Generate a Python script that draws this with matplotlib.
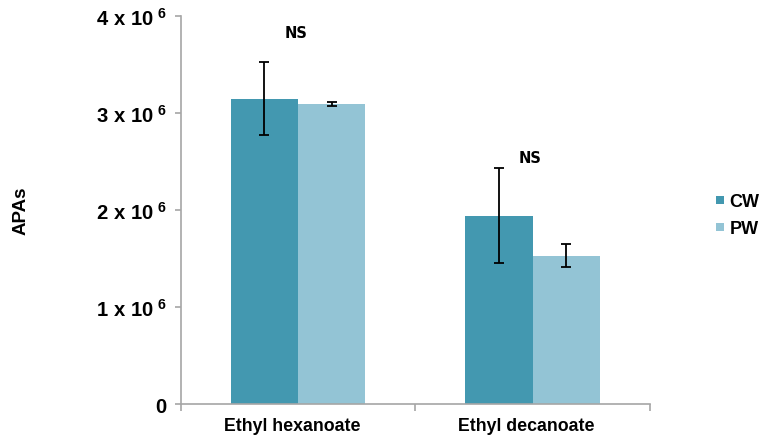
import matplotlib
matplotlib.use("Agg")
import matplotlib.pyplot as plt
import matplotlib.transforms as mtransforms
import numpy as np

plt.rcParams['font.family'] = ['Liberation Sans', 'DejaVu Sans']
plt.rcParams['mathtext.fontset'] = 'custom'
plt.rcParams['mathtext.rm'] = 'Liberation Sans:bold'
plt.rcParams['mathtext.bf'] = 'Liberation Sans:bold'
plt.rcParams['mathtext.it'] = 'Liberation Sans:bold'

categories = ["Ethyl hexanoate", "Ethyl decanoate"]
series = ["CW", "PW"]
cw_values = [3.15e6, 1.94e6]
pw_values = [3.09e6, 1.53e6]
cw_errors = [0.38e6, 0.49e6]
pw_errors = [0.02e6, 0.12e6]
ytick_values = [0, 1e6, 2e6, 3e6, 4e6]
ytick_labels = ["0", r"$1\ x\ 10^{\ 6}$", r"$2\ x\ 10^{\ 6}$",
                r"$3\ x\ 10^{\ 6}$", r"$4\ x\ 10^{\ 6}$"]
significance = ["NS", "NS"]
significance_y = [3.83e6, 2.54e6]

colors = ["#4398B0", "#93C4D5"]
axis_grey = "#A6A6A6"

fig = plt.figure(figsize=(7.6, 4.39), dpi=100)
ax = fig.add_axes([0.238, 0.0774, 0.617, 0.8836])

x = np.arange(len(categories))
width = 0.287
err_style = dict(ecolor="black", elinewidth=1.3, capthick=1.3)
b1 = ax.bar(x - width / 2, cw_values, width, color=colors[0], label=series[0],
            yerr=cw_errors, capsize=3.5, error_kw=err_style)
b2 = ax.bar(x + width / 2, pw_values, width, color=colors[1], label=series[1],
            yerr=pw_errors, capsize=3.5, error_kw=err_style)

ax.set_xlim(-0.5, 1.5)
ax.set_ylim(0, 4e6)
ax.set_yticks(ytick_values)
ax.set_yticklabels(ytick_labels, fontsize=14.6, fontweight="bold")
ax.set_xticks(x)
ax.set_xticklabels(categories, fontsize=12.8, fontweight="bold")
ax.tick_params(axis="x", length=0, pad=9)
ax.tick_params(axis="y", length=4, color=axis_grey, width=1.2, pad=6)

# nudge category labels slightly left
shift = mtransforms.ScaledTranslation(-6 / 100, 0, fig.dpi_scale_trans)
for lbl in ax.get_xticklabels():
    lbl.set_transform(lbl.get_transform() + shift)

# category separator ticks on the x axis
ax.set_xticks([-0.5, 0.5, 1.5], minor=True)
ax.tick_params(axis="x", which="minor", length=5, color=axis_grey, width=1.2)

for side in ["top", "right"]:
    ax.spines[side].set_visible(False)
for side in ["left", "bottom"]:
    ax.spines[side].set_color(axis_grey)
    ax.spines[side].set_linewidth(1.2)

# significance labels above each pair
for xi, yi, lab in zip(x, significance_y, significance):
    ax.text(xi - 0.01, yi, lab, ha="center", va="center", fontsize=10.5,
            fontweight="bold", family="DejaVu Sans")

ax.set_ylabel("APAs", fontsize=13.5, fontweight="bold")
ax.yaxis.set_label_coords(-0.322, 0.5)

fig.legend(handles=[b1, b2], labels=series, loc="center left",
           bbox_to_anchor=(0.942, 0.507), frameon=False,
           prop=dict(size=13, weight="bold"), handlelength=0.45,
           handleheight=0.31, handletextpad=0.3, labelspacing=0.55,
           borderaxespad=0, borderpad=0)

fig.savefig("out.png", dpi=100)
